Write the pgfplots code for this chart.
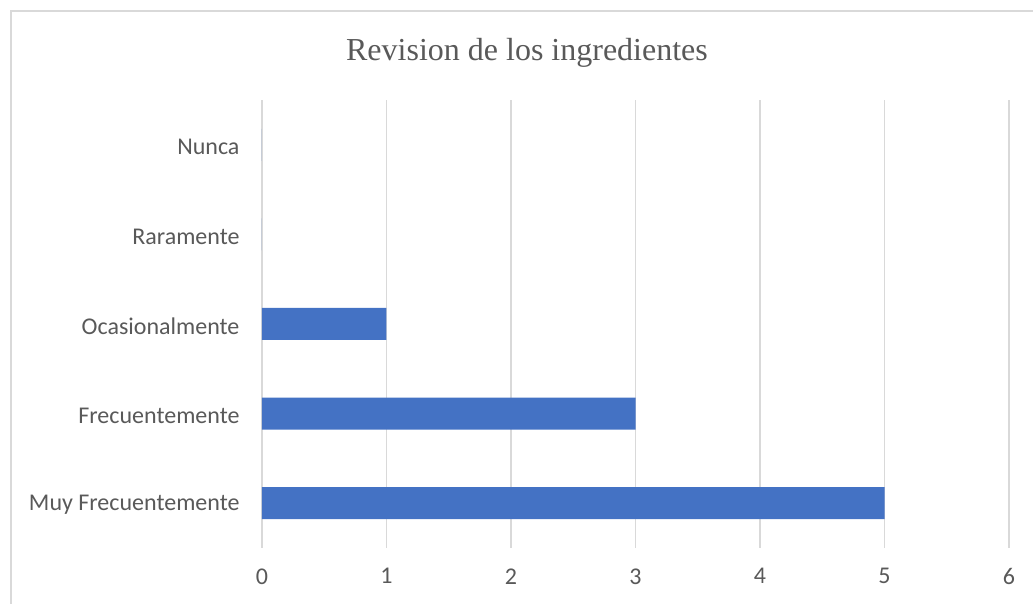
\documentclass[border=0pt]{standalone}
\usepackage{pgfplots}
\pgfplotsset{compat=1.18}
\usepackage{fontspec}
\setmainfont{Carlito}
\newfontfamily\titlefont{Liberation Serif}
\definecolor{barblue}{HTML}{4472C4}
\definecolor{gridgray}{HTML}{D9D9D9}
\definecolor{txtgray}{HTML}{595959}
\definecolor{framegray}{HTML}{D9D9D9}
\begin{document}
\begin{tikzpicture}
\begin{axis}[
  scale only axis,
  width=747pt, height=448pt,
  xbar, bar width=32pt,
  xmin=0, xmax=6, ymin=-0.5, ymax=4.5,
  xtick={0,1,2,3,4,5,6},
  ytick={0,1,2,3,4},
  yticklabels={Muy Frecuentemente,Frecuentemente,Ocasionalmente,Raramente,Nunca},
  xmajorgrids, major grid style={gridgray, line width=1.2pt},
  axis line style={draw=none},
  major tick length=0pt,
  tick label style={font=\fontsize{24}{28}\selectfont, text=txtgray},
  /pgf/number format/assume math mode=true,
  xticklabel style={yshift=-17pt},
  yticklabel style={xshift=-19pt, yshift=-2pt},
  clip=false,
]
\addplot[fill=barblue, draw=none] coordinates {(5,0) (3,1) (1,2) (0,3) (0,4)};
\end{axis}
\useasboundingbox ([xshift=-262pt,yshift=-56pt]current axis.south west) rectangle ([xshift=24pt,yshift=100pt]current axis.north east);
\draw[framegray, line width=1.2pt] ([xshift=-251pt,yshift=-60pt]current axis.south west) -- ([xshift=-251pt,yshift=89pt]current axis.north west) -- ([xshift=40pt,yshift=89pt]current axis.north east);
\node[text=txtgray, font=\titlefont\fontsize{32}{36}\selectfont] at ([xshift=265pt,yshift=47pt]current axis.north west) {Revision de los ingredientes};
\end{tikzpicture}
\end{document}
